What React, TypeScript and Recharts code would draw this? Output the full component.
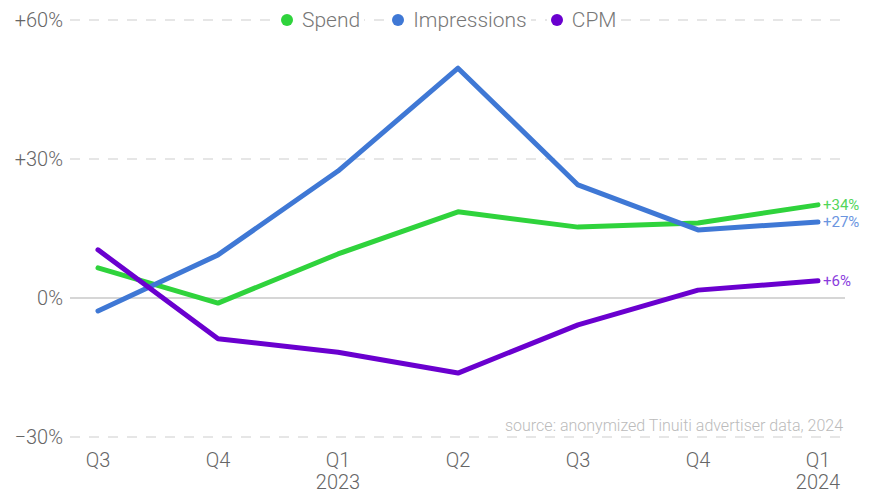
import React from "react";
import {
  LineChart,
  Line,
  XAxis,
  YAxis,
  CartesianGrid,
  ReferenceLine,
  Legend,
} from "recharts";

const quarters = ["Q3", "Q4", "Q1", "Q2", "Q3", "Q4", "Q1"];
const years = ["", "", "2023", "", "", "", "2024"];
const spend = [6.5, -1.1, 9.5, 18.6, 15.3, 16.2, 20.1];
const impressions = [-2.8, 9.3, 27.4, 49.6, 24.4, 14.7, 16.4];
const cpm = [10.4, -8.8, -11.7, -16.2, -5.8, 1.7, 3.7];
const endLabels = { spend: "+34%", impressions: "+27%", cpm: "+6%" };
const yTicks = [-30, 0, 30, 60];
const yTickLabels: Record<number, string> = { "-30": "\u221230%", 0: "0%", 30: "+30%", 60: "+60%" } as any;
const sourceText = "source: anonymized Tinuiti advertiser data, 2024";

const data = quarters.map((q, i) => ({
  idx: i,
  q,
  year: years[i],
  spend: spend[i],
  impressions: impressions[i],
  cpm: cpm[i],
}));

const series = [
  { key: "spend", name: "Spend", color: "#2fd33c", label: "#52d65a" },
  { key: "impressions", name: "Impressions", color: "#3f78d5", label: "#6b95df" },
  { key: "cpm", name: "CPM", color: "#6a00cf", label: "#8a3cdd" },
];
const legendGaps = [0, 32, 24];

const FONT = "Roboto, 'Noto Sans', sans-serif";

const XTick = (props: any) => {
  const { x, y, payload } = props;
  const i = payload.value;
  return (
    <g>
      <text x={x} y={y + 22} textAnchor="middle" fill="#666" fontSize={20} fontWeight={300} fontFamily={FONT}>
        {quarters[i]}
      </text>
      {years[i] ? (
        <text x={x} y={y + 44} textAnchor="middle" fill="#666" fontSize={20} fontWeight={300} fontFamily={FONT}>
          {years[i]}
        </text>
      ) : null}
    </g>
  );
};

const YTick = (props: any) => {
  const { x, y, payload } = props;
  return (
    <text x={x} y={y} dy={7} textAnchor="end" fill="#666" fontSize={20} fontWeight={300} fontFamily={FONT}>
      {yTickLabels[payload.value]}
    </text>
  );
};

const makeEndLabel = (text: string, color: string) => (props: any) => {
  const { x, y, index } = props;
  if (index !== quarters.length - 1) return null;
  return (
    <text x={x + 5} y={y} dy={5} fill={color} fontSize={15} fontFamily={FONT}>
      {text}
    </text>
  );
};

const LegendContent = () => (
  <div style={{ height: 0, overflow: "visible", position: "relative" }}>
    <div
      style={{
        position: "absolute",
        left: 0,
        top: -13,
        width: 877,
        display: "flex",
        justifyContent: "flex-start",
        alignItems: "center",
        fontFamily: FONT,
        fontWeight: 300,
        fontSize: 21,
        color: "#777",
        paddingLeft: 277,
        boxSizing: "border-box",
      }}
    >
      {series.map((s, i) => (
        <div
          key={s.key}
          style={{
            display: "flex",
            alignItems: "center",
            background: "#fff",
            padding: "0 4px",
            marginLeft: i === 0 ? 0 : legendGaps[i] - 8,
            lineHeight: "26px",
          }}
        >
          <span
            style={{
              display: "inline-block",
              width: 12,
              height: 12,
              borderRadius: 6,
              background: s.color,
              marginRight: 9,
            }}
          />
          {s.name}
        </div>
      ))}
    </div>
  </div>
);

export default function App() {
  return (
    <div style={{ position: "absolute", left: 0, top: 0, background: "#fff" }}>
      <LineChart
        width={877}
        height={494}
        data={data}
        margin={{ top: 20, right: 32, bottom: 0, left: 0 }}
      >
        <CartesianGrid horizontal vertical={false} stroke="#dedede" strokeDasharray="10 9" strokeWidth={1.5} />
        <ReferenceLine y={0} stroke="#d6d6d6" strokeWidth={2} />
        <XAxis
          dataKey="idx"
          type="number"
          domain={[0, 6]}
          ticks={[0, 1, 2, 3, 4, 5, 6]}
          padding={{ left: 28, right: 27 }}
          axisLine={false}
          tickLine={false}
          tick={<XTick />}
          height={57}
          interval={0}
        />
        <YAxis
          domain={[-30, 60]}
          ticks={yTicks}
          axisLine={false}
          tickLine={false}
          tickSize={0}
          width={70}
          tick={<YTick />}
          tickMargin={7}
          interval={0}
        />
        <Legend
          verticalAlign="top"
          content={<LegendContent />}
          wrapperStyle={{ top: 20, left: 0, width: 877, height: 0 }}
        />
        {series.map((s) => (
          <Line
            key={s.key}
            type="linear"
            dataKey={s.key}
            name={s.name}
            stroke={s.color}
            strokeWidth={5}
            dot={false}
            activeDot={false}
            strokeLinecap="round"
            strokeLinejoin="round"
            isAnimationActive={false}
            label={makeEndLabel((endLabels as any)[s.key], s.label)}
          />
        ))}
        <text
          x={843}
          y={431}
          textAnchor="end"
          fill="#bbb"
          fontSize={16}
          fontWeight={300}
          fontFamily={FONT}
        >
          {sourceText}
        </text>
      </LineChart>
    </div>
  );
}
